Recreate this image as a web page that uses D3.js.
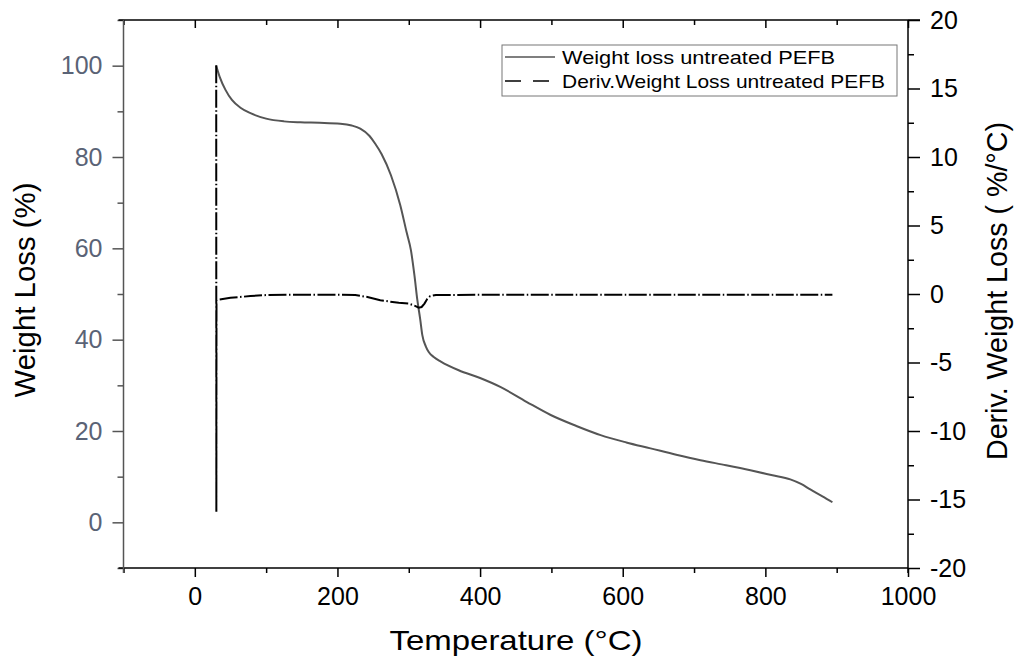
<!DOCTYPE html>
<html>
<head>
<meta charset="utf-8">
<script src="https://cdn.jsdelivr.net/npm/d3@7"></script>
<style>
  body { margin: 0; background: #fff; }
  svg { font-family: "Liberation Sans", Arial, sans-serif; }
</style>
</head>
<body>
<script>
// TGA data
var tempWeight = [30, 35, 43, 52, 64, 78, 100, 125, 148, 175, 204, 220, 232, 245, 253, 262, 275, 288, 297, 303, 308, 312, 316, 319, 324, 328, 335, 345, 370, 400, 429, 465, 499, 535, 569, 605, 639, 675, 709, 745, 779, 810, 835, 850, 863, 880, 894];
var weightLoss = [100, 97.5, 94.7, 92.5, 90.8, 89.6, 88.4, 87.8, 87.6, 87.5, 87.3, 86.9, 86.2, 84.6, 82.9, 80.6, 76, 69.5, 63.5, 59.6, 54, 48.7, 44.5, 41, 38.5, 37.3, 36.2, 35.2, 33.3, 31.6, 29.6, 26.4, 23.5, 21.1, 19.1, 17.5, 16.2, 14.8, 13.6, 12.5, 11.4, 10.3, 9.4, 8.4, 7.2, 5.7, 4.4];

var tempDeriv = [30, 30.2, 30.4, 32, 50, 78, 100, 150, 200, 225, 242, 260, 286, 300, 308, 314, 318, 322, 326, 330, 338, 360, 450, 600, 750, 894];
var derivWeight = [16.7, -15.9, -0.46, -0.42, -0.28, -0.15, -0.08, -0.05, -0.05, -0.08, -0.22, -0.46, -0.64, -0.7, -0.85, -1.0, -0.95, -0.7, -0.35, -0.15, -0.07, -0.07, -0.05, -0.05, -0.05, -0.05];

var xMajor = [0, 200, 400, 600, 800, 1000];
var xMinor = [-100, 100, 300, 500, 700, 900];
var leftMajor = [0, 20, 40, 60, 80, 100];
var leftMinor = [-10, 10, 30, 50, 70, 90, 110];
var rightMajor = [-20, -15, -10, -5, 0, 5, 10, 15, 20];
var rightMinor = [-17.5, -12.5, -7.5, -2.5, 2.5, 7.5, 12.5, 17.5];

var legendNames = ["Weight loss untreated PEFB", "Deriv.Weight Loss untreated PEFB"];

var width = 1019, height = 661;
var plotLeft = 123.5, plotRight = 908, plotTop = 20, plotBottom = 568;

var leftGray = "#555", leftText = "#5a6376";

var svg = d3.select("body").append("svg")
  .attr("width", width)
  .attr("height", height);

var x = d3.scaleLinear().domain([-100, 1000]).range([plotLeft, plotRight]);
var yL = d3.scaleLinear().domain([-10, 110]).range([plotBottom, plotTop]);
var yR = d3.scaleLinear().domain([-20, 20]).range([plotBottom, plotTop]);

var plain = function(d) {
  return String(d);
};

function styleAxis(g, color, textColor, size) {
  g.select(".domain").remove();
  g.selectAll(".tick line").attr("stroke", color).attr("stroke-width", 1.5);
  g.selectAll(".tick text")
    .attr("fill", textColor)
    .style("font-size", size + "px")
    .style("font-family", "'Liberation Sans', Arial, sans-serif");
}

// bottom axis
var gx = svg.append("g").attr("transform", "translate(0," + plotBottom + ")");
gx.call(d3.axisBottom(x).tickValues(xMajor).tickSize(9).tickPadding(10).tickFormat(plain));
styleAxis(gx, "#000", "#000", 25);
var gxm = svg.append("g").attr("transform", "translate(0," + plotBottom + ")");
gxm.call(d3.axisBottom(x).tickValues(xMinor).tickSize(5).tickFormat(""));
styleAxis(gxm, "#000", "#000", 10);

// top axis (ticks inward)
var gt = svg.append("g").attr("transform", "translate(0," + plotTop + ")");
gt.call(d3.axisBottom(x).tickValues(xMajor).tickSize(8).tickFormat(""));
styleAxis(gt, "#000", "#000", 10);
var gtm = svg.append("g").attr("transform", "translate(0," + plotTop + ")");
gtm.call(d3.axisBottom(x).tickValues(xMinor).tickSize(5).tickFormat(""));
styleAxis(gtm, "#000", "#000", 10);

// left axis
var gl = svg.append("g").attr("transform", "translate(" + plotLeft + ",0)");
gl.call(d3.axisLeft(yL).tickValues(leftMajor).tickSize(11).tickPadding(10).tickFormat(plain));
styleAxis(gl, leftGray, leftText, 25);
var glm = svg.append("g").attr("transform", "translate(" + plotLeft + ",0)");
glm.call(d3.axisLeft(yL).tickValues(leftMinor).tickSize(6).tickFormat(""));
styleAxis(glm, leftGray, leftText, 10);

// right axis
var gr = svg.append("g").attr("transform", "translate(" + plotRight + ",0)");
gr.call(d3.axisRight(yR).tickValues(rightMajor).tickSize(12).tickPadding(10).tickFormat(plain));
styleAxis(gr, "#000", "#000", 25);
var grm = svg.append("g").attr("transform", "translate(" + plotRight + ",0)");
grm.call(d3.axisRight(yR).tickValues(rightMinor).tickSize(6).tickFormat(""));
styleAxis(grm, "#000", "#000", 10);

// frame lines
svg.append("line").attr("x1", plotLeft - 5).attr("x2", plotRight + 12).attr("y1", plotTop).attr("y2", plotTop)
  .attr("stroke", "#000").attr("stroke-width", 1.5);
svg.append("line").attr("x1", plotLeft - 5).attr("x2", plotRight).attr("y1", plotBottom).attr("y2", plotBottom)
  .attr("stroke", "#000").attr("stroke-width", 1.5);
svg.append("line").attr("x1", plotLeft).attr("x2", plotLeft).attr("y1", plotTop).attr("y2", plotBottom + 5)
  .attr("stroke", leftGray).attr("stroke-width", 1.5);
svg.append("line").attr("x1", plotRight).attr("x2", plotRight).attr("y1", plotTop).attr("y2", plotBottom + 5)
  .attr("stroke", "#000").attr("stroke-width", 1.5);

// curves
var weightLine = d3.line()
  .x(function(d, i) { return x(tempWeight[i]); })
  .y(function(d) { return yL(d); })
  .curve(d3.curveMonotoneX);

svg.append("path")
  .datum(weightLoss)
  .attr("d", weightLine)
  .attr("fill", "none")
  .attr("stroke", "#555")
  .attr("stroke-width", 2);

var derivLine = d3.line()
  .x(function(d, i) { return x(tempDeriv[i]); })
  .y(function(d) { return yR(d); })
  .curve(d3.curveLinear);

svg.append("path")
  .datum(derivWeight)
  .attr("d", derivLine)
  .attr("fill", "none")
  .attr("stroke", "#000")
  .attr("stroke-width", 2)
  .attr("stroke-dasharray", "18,2.5,1.5,2.5");

// axis titles
svg.append("text")
  .attr("transform", "translate(35,290) rotate(-90)")
  .attr("text-anchor", "middle")
  .style("font-size", "29px")
  .attr("textLength", 215)
  .attr("lengthAdjust", "spacingAndGlyphs")
  .attr("fill", "#000")
  .text("Weight Loss (%)");

svg.append("text")
  .attr("transform", "translate(1007,291) rotate(-90)")
  .attr("text-anchor", "middle")
  .style("font-size", "29px")
  .attr("textLength", 338)
  .attr("lengthAdjust", "spacingAndGlyphs")
  .attr("fill", "#000")
  .text("Deriv. Weight Loss ( %/°C)");

svg.append("text")
  .attr("x", 516)
  .attr("y", 650)
  .attr("text-anchor", "middle")
  .style("font-size", "28px")
  .attr("textLength", 253)
  .attr("lengthAdjust", "spacingAndGlyphs")
  .attr("fill", "#000")
  .text("Temperature (°C)");

// legend
var legendLengths = [273, 323];
var legend = svg.append("g").attr("transform", "translate(502,45)");
legend.append("rect")
  .attr("width", 395).attr("height", 51)
  .attr("fill", "#fff").attr("stroke", "#777").attr("stroke-width", 1);

legendNames.forEach(function(name, i) {
  var ly = 12 + i * 24;
  legend.append("line")
    .attr("x1", 3).attr("x2", 53).attr("y1", ly).attr("y2", ly)
    .attr("stroke", i == 0 ? "#555" : "#000")
    .attr("stroke-width", 1.5)
    .attr("stroke-dasharray", i == 0 ? null : "16,12");
  legend.append("text")
    .attr("x", 60).attr("y", ly + 7)
    .style("font-size", "19px")
    .attr("textLength", legendLengths[i])
    .attr("lengthAdjust", "spacingAndGlyphs")
    .attr("fill", "#000")
    .text(name);
});
</script>
</body>
</html>
